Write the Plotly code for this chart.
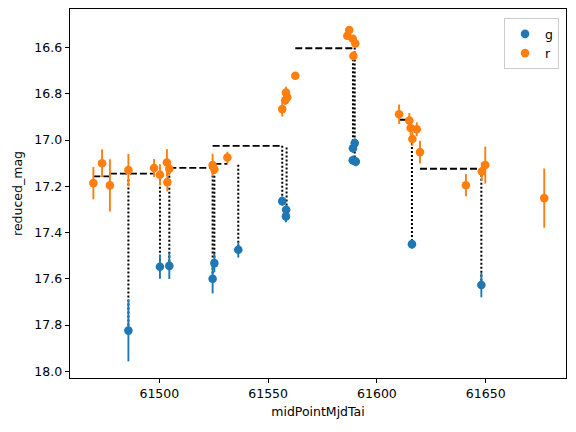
import plotly.graph_objects as go

# g band
g_mjd = [61485.8, 61500.3, 61504.6, 61524.5, 61525.3, 61536.3, 61556.5, 61558.3, 61558.2,
         61589.0, 61589.8, 61588.9, 61590.3, 61616.1, 61648.0]
g_mag = [17.824, 17.548, 17.544, 17.600, 17.532, 17.474, 17.264, 17.301, 17.330,
         17.035, 17.013, 17.087, 17.093, 17.450, 17.627]
g_err = [0.133, 0.052, 0.057, 0.063, 0.04, 0.034, 0.02, 0.02, 0.025,
         0.02, 0.02, 0.02, 0.02, 0.02, 0.053]

# r band
r_mjd = [61469.7, 61473.7, 61477.3, 61485.8, 61497.6, 61500.3, 61503.5, 61504.6, 61503.7,
         61524.5, 61525.3, 61531.3, 61556.5, 61558.2, 61558.8, 61557.9, 61562.5,
         61587.3, 61586.4, 61588.9, 61590.1, 61589.2, 61610.2, 61614.9, 61615.5,
         61618.3, 61616.3, 61619.8, 61640.9, 61648.2, 61649.8, 61676.9]
r_mag = [17.186, 17.100, 17.196, 17.130, 17.121, 17.150, 17.097, 17.124, 17.182,
         17.108, 17.126, 17.075, 16.866, 16.794, 16.815, 16.828, 16.722,
         16.524, 16.549, 16.562, 16.582, 16.636, 16.888, 16.915, 16.948,
         16.953, 16.995, 17.052, 17.195, 17.136, 17.108, 17.251]
r_err = [0.07, 0.06, 0.113, 0.07, 0.039, 0.045, 0.058, 0.03, 0.04,
         0.049, 0.02, 0.025, 0.032, 0.025, 0.02, 0.02, 0.015,
         0.015, 0.015, 0.015, 0.015, 0.02, 0.042, 0.032, 0.03,
         0.03, 0.03, 0.049, 0.048, 0.04, 0.08, 0.128]

# dashed horizontal segments
dash_x0 = [61469.7, 61477.3, 61504.6, 61525.3, 61524.5, 61562.5, 61610.2, 61619.8]
dash_x1 = [61477.3, 61497.6, 61524.5, 61531.3, 61556.5, 61589.2, 61615.5, 61648.2]
dash_y = [17.157, 17.145, 17.120, 17.103, 17.025, 16.603, 16.912, 17.124]

# dotted vertical segments
dot_x = [61485.8, 61500.3, 61504.6, 61524.5, 61525.3, 61536.3, 61556.5, 61558.5,
         61589.0, 61589.8, 61616.1, 61648.0]
dot_top = [17.17, 17.15, 17.12, 17.136, 17.12, 17.107, 17.025, 17.032,
           16.65, 16.60, 16.995, 17.15]
dot_bot = [17.824, 17.548, 17.544, 17.600, 17.532, 17.474, 17.264, 17.330,
           17.035, 17.093, 17.450, 17.627]

BLUE = "#1f77b4"
ORANGE = "#ff7f0e"

dx, dy = [], []
for a, b, y in zip(dash_x0, dash_x1, dash_y):
    dx += [a, b, None]
    dy += [y, y, None]
vx, vy = [], []
for x, t, b in zip(dot_x, dot_top, dot_bot):
    vx += [x, x, None]
    vy += [t, b, None]

fig = go.Figure()
fig.add_trace(go.Scatter(x=dx, y=dy, mode="lines", showlegend=False,
                         line=dict(color="black", width=1.9, dash="7px,3px"),
                         hoverinfo="skip"))
fig.add_trace(go.Scatter(x=vx, y=vy, mode="lines", showlegend=False,
                         line=dict(color="black", width=2, dash="2px,2px"),
                         hoverinfo="skip"))
fig.add_trace(go.Scatter(x=g_mjd, y=g_mag, mode="markers", name="g",
                         marker=dict(color=BLUE, size=8.6),
                         error_y=dict(type="data", array=g_err, color=BLUE,
                                      thickness=1.9, width=0)))
fig.add_trace(go.Scatter(x=r_mjd, y=r_mag, mode="markers", name="r",
                         marker=dict(color=ORANGE, size=8.6),
                         error_y=dict(type="data", array=r_err, color=ORANGE,
                                      thickness=1.9, width=0)))

font = dict(family="DejaVu Sans", size=12.5, color="black")
axis_common = dict(showgrid=False, zeroline=False, showline=True, linecolor="black",
                   linewidth=1, mirror=True, ticks="outside", ticklen=4.4,
                   tickwidth=1, tickcolor="black", tickfont=font)

fig.update_layout(
    width=576, height=432,
    margin=dict(l=70, r=10, t=9, b=53.5),
    paper_bgcolor="white", plot_bgcolor="white",
    font=font,
    xaxis=dict(range=[61458.96, 61686.9], tickvals=[61500, 61550, 61600, 61650],
               ticktext=["61500", "61550", "61600", "61650"],
               title=dict(text="midPointMjdTai", font=font, standoff=6),
               **axis_common),
    yaxis=dict(range=[18.029, 16.433],
               tickvals=[16.6, 16.8, 17.0, 17.2, 17.4, 17.6, 17.8, 18.0],
               ticktext=["16.6", "16.8", "17.0", "17.2", "17.4", "17.6", "17.8", "18.0"],
               title=dict(text="reduced_mag", font=font, standoff=8),
               **axis_common),
    legend=dict(x=0.986, y=0.975, xanchor="right", yanchor="top",
                bordercolor="#cccccc", borderwidth=1, bgcolor="rgba(255,255,255,0.8)",
                font=font, itemwidth=30, tracegroupgap=0),
    showlegend=True,
)

fig.write_html("out.html")
